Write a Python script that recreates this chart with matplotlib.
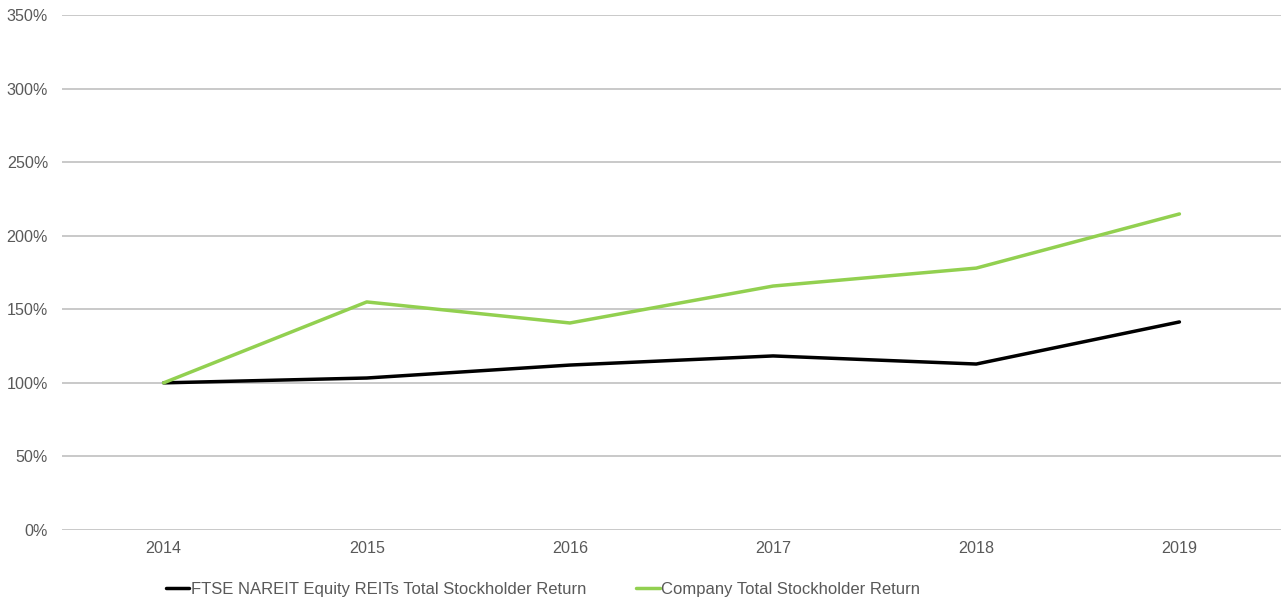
import matplotlib.pyplot as plt
from matplotlib.ticker import FuncFormatter, MultipleLocator

plt.rcParams['font.family'] = ['Liberation Sans', 'DejaVu Sans']

years = ['2014', '2015', '2016', '2017', '2018', '2019']
nareit = [100, 103.3, 112.1, 118.3, 112.8, 141.4]
company = [100, 155.0, 140.7, 165.8, 178.0, 214.8]

fig = plt.figure(figsize=(12.81, 5.98), dpi=100)
ax = fig.add_axes([0.0484, 0.1137, 0.9516, 0.8612])

x = range(len(years))
ax.plot(x, nareit, color='black', lw=2.5, solid_capstyle='round',
        label='FTSE NAREIT Equity REITs Total Stockholder Return')
ax.plot(x, company, color='#92d050', lw=2.5, solid_capstyle='round',
        label='Company Total Stockholder Return')

ax.set_xlim(-0.5, 5.5)
ax.set_ylim(0, 350)
ax.set_xticks(list(x))
ax.set_xticklabels(years)
ax.yaxis.set_major_locator(MultipleLocator(50))
ax.yaxis.set_major_formatter(FuncFormatter(lambda v, p: '%d%%' % v))
ax.grid(axis='y', color='#c0c0c0', lw=1.2)
ax.set_axisbelow(True)
for s in ax.spines.values():
    s.set_visible(False)
ax.tick_params(length=0, labelsize=11.6, colors='#595959')
ax.tick_params(axis='y', pad=10)
ax.tick_params(axis='x', pad=8)

fig.legend(loc='center', bbox_to_anchor=(0.424, 0.014), ncol=2, frameon=False,
           fontsize=12, handlelength=1.4, handletextpad=0.1, columnspacing=3.0,
           labelcolor='#595959')

fig.savefig('out.png', dpi=100)
